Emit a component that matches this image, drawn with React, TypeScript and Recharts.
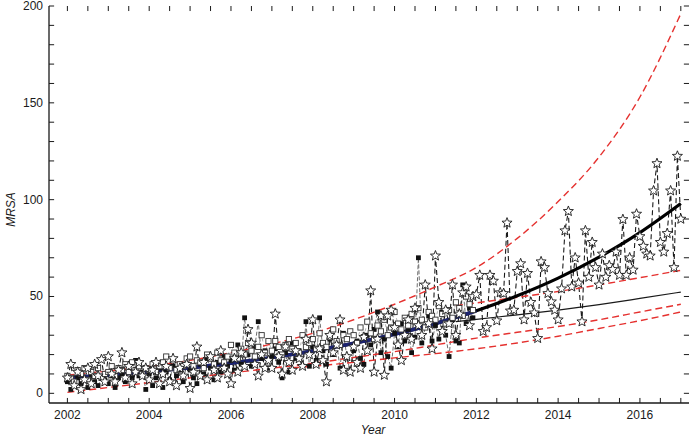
import { ComposedChart, Line, XAxis, YAxis, Label, ReferenceLine } from "recharts";

const FONT = "'Liberation Sans', Arial, Helvetica, sans-serif";
const INK = "#1a1a1a";
const RED = "#e5312f";
const NAVY = "#1c2370";

const X_DOMAIN: [number, number] = [2001.55, 2017.2];
const Y_DOMAIN: [number, number] = [-5, 200];
// inward tick length expressed in axis units (about 5px each way)
const X_TICK_UNITS = 0.125;
const Y_TICK_UNITS = 2.6;

// axis ticks (minor every half year / every 10 units, labels on the major ones)
const xTicks = [
  2002, 2002.5, 2003, 2003.5, 2004, 2004.5, 2005, 2005.5, 2006, 2006.5, 2007, 2007.5, 2008, 2008.5, 2009,
  2009.5, 2010, 2010.5, 2011, 2011.5, 2012, 2012.5, 2013, 2013.5, 2014, 2014.5, 2015, 2015.5, 2016, 2016.5, 2017,
];
const xLabelYears = [2002, 2004, 2006, 2008, 2010, 2012, 2014, 2016];
const yTicks = [0, 10, 20, 30, 40, 50, 60, 70, 80, 90, 100, 110, 120, 130, 140, 150, 160, 170, 180, 190, 200];
const yLabelValues = [0, 50, 100, 150, 200];

// monthly observations, one row per year (Jan..Dec)
const squareYears = [2002, 2003, 2004, 2005, 2006, 2007, 2008, 2009, 2010, 2011];
const filledSquares = [
  [6, 2, 4, 8, 5, 7, 3, 9, 6, 4, 8, 7],
  [5, 9, 3, 8, 10, 6, 12, 8, 17, 9, 11, 2],
  [10, 4, 8, 13, 3, 11, 7, 14, 9, 12, 6, 15],
  [12, 8, 5, 15, 10, 18, 13, 7, 16, 11, 19, 14],
  [17, 12, 25, 15, 39, 20, 14, 24, 37, 18, 22, 13],
  [19, 23, 16, 8, 21, 11, 26, 18, 22, 14, 37, 14],
  [24, 17, 39, 22, 15, 28, 20, 26, 13, 31, 19, 11],
  [22, 27, 18, 15, 30, 25, 33, 42, 21, 28, 19, 13],
  [31, 24, 36, 27, 33, 21, 29, 70, 26, 34, 40, 27],
  [35, 28, 42, 30, 19, 38, 27, 26, 56, 36, 44, 39],
];
const openSquares = [
  [9, 8, 6, 12, 10, 13, 7, 11, 9, 13, 8, 10],
  [11, 14, 9, 13, 12, 15, 11, 16, 12, 14, 10, 13],
  [12, 15, 11, 14, 16, 19, 13, 17, 12, 15, 14, 18],
  [19, 14, 17, 16, 13, 20, 18, 15, 21, 17, 16, 19],
  [25, 21, 18, 23, 20, 26, 22, 19, 24, 30, 21, 27],
  [22, 27, 24, 20, 25, 28, 23, 26, 21, 30, 24, 26],
  [28, 23, 31, 26, 24, 29, 33, 27, 25, 30, 28, 32],
  [30, 26, 34, 29, 37, 31, 28, 35, 32, 38, 30, 34],
  [42, 36, 33, 39, 35, 41, 37, 44, 38, 34, 42, 40],
  [38, 45, 41, 36, 43, 39, 47, 44, 40, 50, 46, 43],
];
const starYears = [2002, 2003, 2004, 2005, 2006, 2007, 2008, 2009, 2010, 2011, 2012, 2013, 2014, 2015, 2016, 2017];
const stars = [
  [8, 15, 4, 11, 2, 7, 13, 5, 15, 9, 17.5, 6],
  [19, 10, 6, 12, 21, 8, 14, 5, 11, 16, 9, 13],
  [7, 12, 16, 5, 10, 14, 6, 18, 4, 13, 9, 15],
  [2.6, 11, 24, 9, 16, 7, 19, 12, 8, 22, 13, 10],
  [5, 18, 11, 21, 14, 33, 26, 15, 9, 20, 13, 17],
  [13, 41, 19, 10, 24, 16, 12, 22, 18, 14, 28, 20],
  [38, 15, 23, 17, 6, 30, 21, 25, 38, 12, 19, 11],
  [24, 16, 13, 29, 22, 53, 11, 28, 40, 9.4, 40, 43],
  [34, 25, 17, 30, 38, 28, 44, 35, 30, 56, 36, 23],
  [71, 47, 32, 43, 36, 56, 30, 41, 52, 55, 35, 50],
  [51, 61, 32, 34, 61, 58, 37.5, 52, 51.6, 88, 42.6, 43],
  [63, 67, 38, 62, 47, 41.6, 28.4, 68, 65, 51.6, 47.3, 43],
  [38, 54, 84, 94, 55, 70, 57, 37, 84, 60, 78, 65],
  [56, 72, 60, 66, 64, 73, 61, 89.8, 61, 70, 63.7, 92.6],
  [81, 76, 72, 71, 104.6, 118.7, 78, 73, 82.6, 104.6, 65, 122.5],
  [90],
];

// fitted exponential trend with its band
const fitYears = [2002, 2003, 2004, 2005, 2006, 2007, 2008, 2009, 2010, 2011, 2012, 2013, 2014, 2015, 2016, 2017];
const expFit = [8, 9.4, 11.2, 13.2, 15.6, 18.5, 21.9, 25.8, 30.5, 36, 42.6, 50.4, 59.5, 70.3, 83, 98];
const expUpper = [9.4, 11.5, 14, 17, 21, 25.5, 31, 38, 46, 55, 65, 80, 99, 122, 153, 196];
const expLower = [0.5, 3, 5.5, 8, 10.5, 13, 15.5, 18.5, 21.5, 25, 28.5, 31.5, 34.5, 38, 42, 46];
const fitEndYear = 2012;

// linear forecast with its band
const linYears = [2011.5, 2012, 2013, 2014, 2015, 2016, 2017];
const linFit = [37, 38.2, 40.5, 43, 45.8, 49, 52.3];
const linUpper = [45.3, 46.7, 49.6, 52.6, 56, 59.7, 63.5];
const linLowerYears = [2007.5, 2008, 2009, 2010, 2011, 2012, 2013, 2014, 2015, 2016, 2017];
const linLower = [13.2, 14, 16, 18.3, 20.5, 23, 26, 29.5, 33.5, 37.5, 42];

const monthly = (years: number[], rows: number[][]) =>
  rows.flatMap((row, i) => row.map((y, m) => ({ x: years[i] + m / 12, y })));
const pairs = (xs: number[], ys: number[]) => xs.map((x, i) => ({ x, y: ys[i] }));

const filledData = monthly(squareYears, filledSquares);
const openData = monthly(squareYears, openSquares);
const starData = monthly(starYears, stars);
const fitData = pairs(fitYears, expFit);
const fitObserved = fitData.filter((p) => p.x <= fitEndYear);

function starPoints(cx: number, cy: number, r: number) {
  const pts: string[] = [];
  for (let i = 0; i < 10; i++) {
    const rad = i % 2 === 0 ? r : r * 0.43;
    const a = -Math.PI / 2 + (i * Math.PI) / 5;
    pts.push(`${(cx + rad * Math.cos(a)).toFixed(2)},${(cy + rad * Math.sin(a)).toFixed(2)}`);
  }
  return pts.join(" ");
}

const StarDot = (p: any) => {
  if (p.cx == null || p.cy == null) return <g key={`st-${p.index}`} />;
  return (
    <polygon key={`st-${p.index}`} points={starPoints(p.cx, p.cy, 5.3)} fill="#fff" stroke={INK} strokeWidth={0.9} />
  );
};
const FilledDot = (p: any) => <rect key={`fs-${p.index}`} x={p.cx - 2.4} y={p.cy - 2.4} width={4.8} height={4.8} fill="#111" />;
const OpenDot = (p: any) => (
  <rect key={`os-${p.index}`} x={p.cx - 2.6} y={p.cy - 2.6} width={5.2} height={5.2} fill="#fff" stroke="#333" strokeWidth={0.9} />
);

const tickText = { fontFamily: FONT, fontSize: 12, fill: INK };

const BottomLabel = ({ x, y, payload }: any) =>
  xLabelYears.includes(payload.value) ? (
    <text x={x} y={y + 16} textAnchor="middle" {...tickText}>
      {payload.value}
    </text>
  ) : (
    <g />
  );
const LeftLabel = ({ x, y, payload }: any) =>
  yLabelValues.includes(payload.value) ? (
    <text x={x - 6} y={y + 4} textAnchor="end" {...tickText}>
      {payload.value}
    </text>
  ) : (
    <g />
  );

const axisStroke = { stroke: INK, strokeWidth: 1.3 };
const [xLo, xHi] = X_DOMAIN;
const [yLo, yHi] = Y_DOMAIN;

const bandLine = (data: { x: number; y: number }[], key: string) => (
  <Line
    key={key}
    data={data}
    dataKey="y"
    type="monotone"
    stroke={RED}
    strokeWidth={1.4}
    strokeDasharray="7 4"
    dot={false}
    activeDot={false}
    isAnimationActive={false}
  />
);

export default function App() {
  return (
    <div style={{ position: "absolute", left: 0, top: 0, width: 700, height: 438, background: "#fff" }}>
      <ComposedChart width={700} height={438} margin={{ top: 6, right: 11, bottom: 0, left: 0 }}>
        <XAxis
          dataKey="x"
          type="number"
          domain={X_DOMAIN}
          allowDataOverflow
          ticks={xTicks}
          interval={0}
          height={35}
          tickSize={0}
          tickMargin={0}
          tickLine={false}
          tick={BottomLabel}
          axisLine={axisStroke}
        >
          <Label
            content={({ viewBox }: any) => (
              <text
                x={viewBox.x + viewBox.width / 2 + 4}
                y={viewBox.y + 31}
                textAnchor="middle"
                fontFamily={FONT}
                fontSize={12}
                fontStyle="italic"
                fill={INK}
              >
                Year
              </text>
            )}
          />
        </XAxis>
        <XAxis
          xAxisId="top"
          orientation="top"
          dataKey="x"
          type="number"
          domain={X_DOMAIN}
          allowDataOverflow
          height={0}
          tick={false}
          tickLine={false}
          axisLine={axisStroke}
        />
        <YAxis
          type="number"
          domain={Y_DOMAIN}
          allowDataOverflow
          ticks={yTicks}
          interval={0}
          width={49}
          tickSize={0}
          tickMargin={0}
          tickLine={false}
          tick={LeftLabel}
          axisLine={axisStroke}
        >
          <Label
            content={({ viewBox }: any) => {
              const cx = 15;
              const cy = viewBox.y + viewBox.height / 2 + 5;
              return (
                <text
                  x={cx}
                  y={cy}
                  transform={`rotate(-90 ${cx} ${cy})`}
                  textAnchor="middle"
                  fontFamily={FONT}
                  fontSize={12}
                  fontStyle="italic"
                  fill={INK}
                >
                  MRSA
                </text>
              );
            }}
          />
        </YAxis>
        <YAxis
          yAxisId="right"
          orientation="right"
          type="number"
          domain={Y_DOMAIN}
          allowDataOverflow
          width={0}
          tick={false}
          tickLine={false}
          axisLine={axisStroke}
        />

        {/* inward tick marks on all four sides of the frame */}
        {xTicks.flatMap((t) => [
          <ReferenceLine
            key={`xb-${t}`}
            segment={[{ x: t, y: yLo }, { x: t, y: yLo + Y_TICK_UNITS }]}
            stroke={INK}
            strokeWidth={1}
          />,
          <ReferenceLine
            key={`xt-${t}`}
            segment={[{ x: t, y: yHi }, { x: t, y: yHi - Y_TICK_UNITS }]}
            stroke={INK}
            strokeWidth={1}
          />,
        ])}
        {yTicks.flatMap((t) => [
          <ReferenceLine
            key={`yl-${t}`}
            segment={[{ x: xLo, y: t }, { x: xLo + X_TICK_UNITS, y: t }]}
            stroke={INK}
            strokeWidth={1}
          />,
          <ReferenceLine
            key={`yr-${t}`}
            segment={[{ x: xHi, y: t }, { x: xHi - X_TICK_UNITS, y: t }]}
            stroke={INK}
            strokeWidth={1}
          />,
        ])}

        <Line
          data={filledData}
          dataKey="y"
          stroke="#6f6f6f"
          strokeWidth={1}
          strokeDasharray="4 2"
          dot={FilledDot}
          activeDot={false}
          isAnimationActive={false}
        />
        <Line
          data={openData}
          dataKey="y"
          stroke="#a0a0a0"
          strokeWidth={0.8}
          strokeDasharray="3 3"
          dot={OpenDot}
          activeDot={false}
          isAnimationActive={false}
        />
        <Line
          data={starData}
          dataKey="y"
          stroke={INK}
          strokeWidth={1.1}
          strokeDasharray="5 3"
          dot={StarDot}
          activeDot={false}
          isAnimationActive={false}
        />

        {bandLine(pairs(fitYears, expUpper), "exp-upper")}
        {bandLine(pairs(fitYears, expLower), "exp-lower")}
        {bandLine(pairs(linYears, linUpper), "lin-upper")}
        {bandLine(pairs(linLowerYears, linLower), "lin-lower")}

        <Line data={pairs(linYears, linFit)} dataKey="y" type="monotone" stroke={INK} strokeWidth={1.2} dot={false} activeDot={false} isAnimationActive={false} />
        <Line data={fitData} dataKey="y" type="monotone" stroke="#000" strokeWidth={3.2} dot={false} activeDot={false} isAnimationActive={false} />
        <Line data={fitObserved} dataKey="y" type="monotone" stroke={NAVY} strokeWidth={3.6} dot={false} activeDot={false} isAnimationActive={false} />
      </ComposedChart>
    </div>
  );
}
